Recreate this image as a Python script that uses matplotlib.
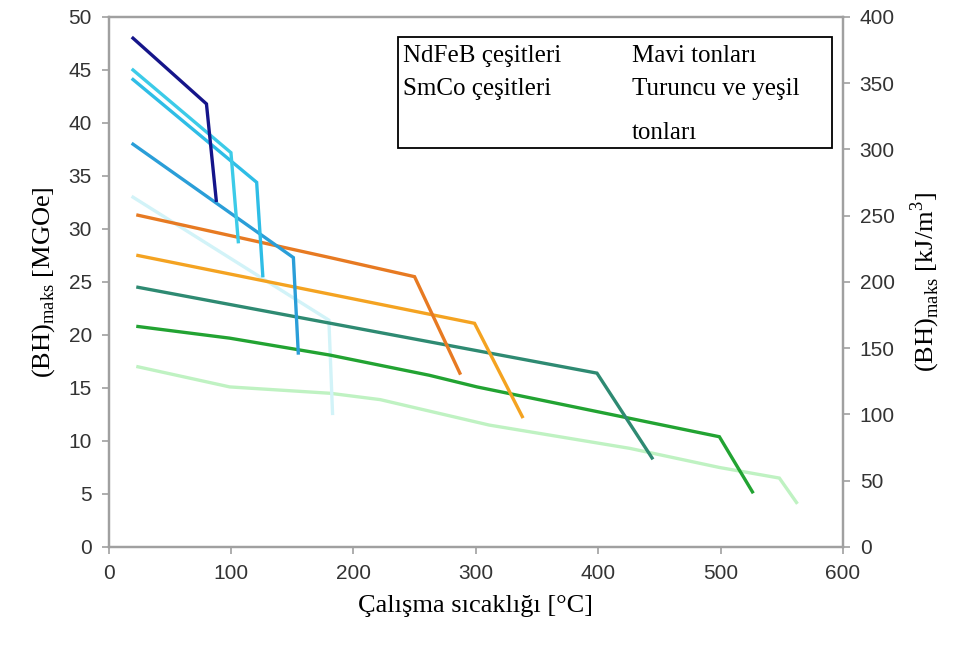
import matplotlib
matplotlib.use('Agg')
import matplotlib.pyplot as plt
from matplotlib.patches import Rectangle

plt.rcParams['mathtext.fontset'] = 'custom'
plt.rcParams['mathtext.rm'] = 'Liberation Serif'

## NdFeB grades (blue shades)
nd1_x = [20, 80, 88]
nd1_y = [48.0, 41.8, 32.7]
nd2_x = [20, 100, 106]
nd2_y = [45.0, 37.2, 28.8]
nd3_x = [20, 121, 126]
nd3_y = [44.1, 34.4, 25.6]
nd4_x = [20, 151, 155]
nd4_y = [38.0, 27.3, 18.3]
nd5_x = [20, 180, 183]
nd5_y = [33.0, 21.4, 12.6]

## SmCo grades (orange and green shades)
sm1_x = [24, 181, 250, 287]
sm1_y = [31.3, 27.3, 25.5, 16.4]
sm2_x = [24, 299, 338]
sm2_y = [27.5, 21.1, 12.3]
sm3_x = [24, 399, 444]
sm3_y = [24.5, 16.4, 8.4]
sm4_x = [24, 99, 181, 262, 301, 499, 526]
sm4_y = [20.8, 19.7, 18.1, 16.2, 15.1, 10.4, 5.2]
sm5_x = [24, 99, 181, 222, 311, 426, 499, 548, 562]
sm5_y = [17.0, 15.1, 14.5, 13.9, 11.5, 9.3, 7.5, 6.5, 4.2]

series = [
    (sm5_x, sm5_y, '#bff2c2'),
    (nd5_x, nd5_y, '#d2f3f8'),
    (sm4_x, sm4_y, '#22a332'),
    (sm3_x, sm3_y, '#2e8a72'),
    (sm2_x, sm2_y, '#f4a321'),
    (sm1_x, sm1_y, '#e77a22'),
    (nd4_x, nd4_y, '#2a9ed8'),
    (nd3_x, nd3_y, '#2ebde6'),
    (nd2_x, nd2_y, '#3ccbe8'),
    (nd1_x, nd1_y, '#15158a'),
]

legend_left = ['NdFeB çeşitleri', 'SmCo çeşitleri']
legend_right = ['Mavi tonları', 'Turuncu ve yeşil', 'tonları']

x_ticks = [0, 100, 200, 300, 400, 500, 600]
y_ticks = [0, 5, 10, 15, 20, 25, 30, 35, 40, 45, 50]
y2_ticks = [0, 50, 100, 150, 200, 250, 300, 350, 400]

fig = plt.figure(figsize=(9.63, 6.48), dpi=100)
ax = fig.add_axes([0.1127, 0.1559, 0.7627, 0.8179])

for xs, ys, c in series:
    ax.plot(xs, ys, color=c, lw=2.4, solid_joinstyle='miter')

ax.set_xlim(0, 600)
ax.set_ylim(0, 50)
ax.set_xticks(x_ticks)
ax.set_yticks(y_ticks)

ax2 = ax.twinx()
ax2.set_ylim(0, 400)
ax2.set_yticks(y2_ticks)

for a in (ax, ax2):
    for s in a.spines.values():
        s.set_color('#a0a0a0')
        s.set_linewidth(1.6)
    a.tick_params(color='#a0a0a0', length=5, width=1.2, labelcolor='#333333',
                  labelsize=15, pad=7)
    for lab in a.get_xticklabels() + a.get_yticklabels():
        lab.set_fontfamily('Liberation Sans')

ax.set_xlabel('Çalışma sıcaklığı [°C]', fontfamily='Liberation Serif',
              fontsize=19, labelpad=9)
ax.set_ylabel('(BH)$_{\\mathrm{maks}}$ [MGOe]', fontfamily='Liberation Serif',
              fontsize=19, labelpad=8)
ax2.set_ylabel('(BH)$_{\\mathrm{maks}}$ [kJ/m$^3$]', fontfamily='Liberation Serif',
               fontsize=19, labelpad=10)

## text box in the upper right
ax.add_patch(Rectangle((0.394, 0.753), 0.591, 0.209, transform=ax.transAxes,
                       fill=False, edgecolor='black', lw=1.3, zorder=5))
left_y = [0.927, 0.864]
right_y = [0.927, 0.864, 0.781]
for t, yy in zip(legend_left, left_y):
    ax.text(0.401, yy, t, transform=ax.transAxes, fontfamily='Liberation Serif',
            fontsize=18, va='center', ha='left')
for t, yy in zip(legend_right, right_y):
    ax.text(0.7127, yy, t, transform=ax.transAxes, fontfamily='Liberation Serif',
            fontsize=18, va='center', ha='left')

fig.savefig('out.png', dpi=100)
